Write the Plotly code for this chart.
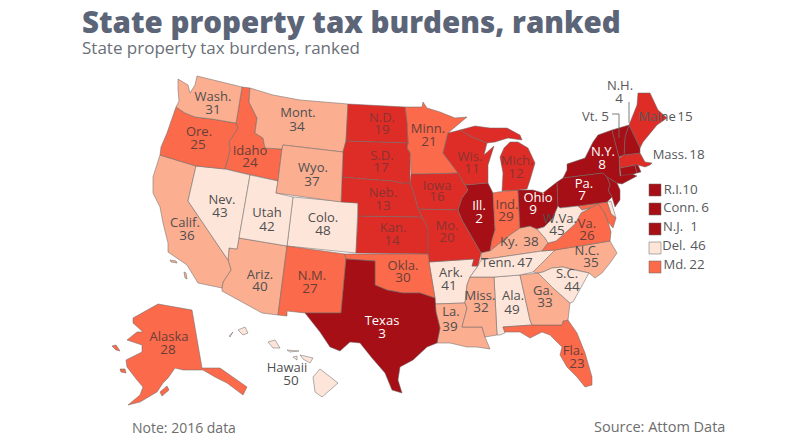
import plotly.graph_objects as go

# --- Chart text ---
TITLE = "State property tax burdens, ranked"
SUBTITLE = "State property tax burdens, ranked"
NOTE = "Note: 2016 data"
SOURCE = "Source: Attom Data"

# --- State data (same order in every list) ---
STATES = ["AL","AK","AZ","AR","CA","CO","CT","DE","FL","GA","HI","ID","IL","IN","IA","KS","KY",
          "LA","ME","MD","MA","MI","MN","MS","MO","MT","NE","NV","NH","NJ","NM","NY","NC","ND",
          "OH","OK","OR","PA","RI","SC","SD","TN","TX","UT","VT","VA","WA","WV","WI","WY"]
NAMES = ["Ala.","Alaska","Ariz.","Ark.","Calif.","Colo.","Conn.","Del.","Fla.","Ga.","Hawaii",
         "Idaho","Ill.","Ind.","Iowa","Kan.","Ky.","La.","Maine","Md.","Mass.","Mich.","Minn.",
         "Miss.","Mo.","Mont.","Neb.","Nev.","N.H.","N.J.","N.M.","N.Y.","N.C.","N.D.","Ohio",
         "Okla.","Ore.","Pa.","R.I.","S.C.","S.D.","Tenn.","Texas","Utah","Vt.","Va.","Wash.",
         "W.Va.","Wis.","Wyo."]
RANKS = [49,28,40,41,36,48,6,46,23,33,50,24,2,29,16,14,38,39,15,22,18,12,21,32,20,34,13,43,4,1,
         27,8,35,19,9,30,25,7,10,44,17,47,3,42,5,26,31,45,11,37]

# States whose label sits off the shape, or in the key
OUTSIDE_LABELS = ["CT","DE","MD","NJ","RI","MA","NH","VT","ME"]
KEY_STATES = ["RI","CT","NJ","DE","MD"]

# --- Outlines, in map units (one list of rings per state) ---
# The geo subplot needs topojson from a CDN, so the states are plain filled traces here.
AL = [[(494,277),(520,275),(530,320),(532,325),(503,327),(505,333),(500,335),(497,335)]]
AK = [[(133,318),(158,304),(192,310),(202,368),(208,368),(220,368),(247,387),(243,395),(227,383),
       (215,377),(203,370),(183,370),(175,368),(168,378),(163,383),(157,392),(140,402),(128,405),
       (140,395),(143,387),(137,380),(127,367),(126,360),(142,352),(142,345),(127,340),(137,332),
       (143,332),(133,323)],
      [(112,346),(116,345),(120,351),(116,350)],
      [(120,369),(125,369),(126,373),(121,372)],
      [(160,392),(167,386),(169,390),(162,396)]]
AZ = [[(239,238),(287,246),(278,315),(262,313),(222,291),(222,288),(223,282),(231,270),(228,260),
       (229,248),(237,249)]]
AR = [[(429,262),(474,259),(472,266),(478,266),(470,277),(467,285),(465,303),(435,304),(435,298)]]
CA = [[(160,155),(196,166),(188,201),(228,260),(231,270),(223,282),(222,288),(198,283),(187,265),
       (168,252),(168,243),(163,223),(160,207),(153,193),(153,177)],
      [(170,260),(176,261),(177,263),(171,262)],
      [(184,272),(186,273),(187,279),(185,278)]]
CO = [[(293,197),(358,203),(356,253),(287,246)]]
CT = [[(620,168),(635,165),(637,173),(621,178)]]
DE = [[(607,202),(611,201),(613,208),(616,218),(611,214)]]
FL = [[(503,327),(532,325),(562,325),(563,321),(568,320),(577,333),(585,353),(592,377),(592,385),
       (585,387),(577,377),(567,367),(560,355),(562,347),(550,335),(542,332),(530,338),(520,332),
       (505,332)]]
GA = [[(520,275),(538,273),(540,275),(553,288),(570,303),(568,320),(563,321),(562,325),(532,325),
       (530,320)]]
HI = [[(313,377),(320,369),(338,383),(322,397),(315,392)],
      [(300,355),(313,358),(310,363),(303,359)],
      [(268,342),(275,340),(280,348),(273,348)],
      [(238,330),(245,327),(248,333),(243,335)],
      [(287,350),(299,351),(290,352)],
      [(293,357),(297,356),(297,360)],
      [(229,336),(233,332),(230,337)]]
ID = [[(242,87),(250,88),(249,102),(257,118),(255,133),(263,138),(265,148),(282,149),(278,181),
       (250,175),(225,169),(230,150),(229,142),(238,128),(236,123)]]
IL = [[(465,185),(488,183),(493,193),(495,230),(492,240),(490,251),(481,253),(472,237),(462,220),
       (458,210),(462,198),(468,190)]]
IN = [[(493,193),(498,192),(518,190),(520,228),(510,235),(500,243),(490,251),(492,240),(495,230)]]
IA = [[(411,174),(458,173),(465,185),(468,190),(462,198),(458,210),(418,209),(415,197),(410,183)]]
KS = [[(358,216),(422,217),(428,228),(428,254),(356,253)]]
KY = [[(481,260),(481,253),(490,251),(500,243),(510,235),(520,228),(530,226),(537,229),(545,238),
       (548,243),(542,251)]]
LA = [[(435,304),(465,303),(467,308),(462,327),(482,327),(485,337),(490,349),(477,347),(467,347),
       (450,343),(440,343),(437,343),(440,328),(436,312)]]
ME = [[(638,93),(650,93),(658,110),(667,118),(657,125),(643,142),(640,148),(629,125),(637,105)]]
MD = [[(578,206),(607,202),(611,214),(616,218),(613,228),(608,222),(604,212),(598,204),(590,208),
       (582,210)]]
MA = [[(619,158),(624,155),(640,153),(645,162),(652,163),(650,165),(645,167),(638,165),(635,165),
       (620,168)]]
MI = [[(460,130),(475,126),(490,128),(507,128),(520,135),(522,140),(508,138),(495,142),(487,143),
       (472,137)],
      [(510,142),(518,142),(528,148),(535,163),(530,180),(527,189),(518,190),(502,191),(503,173),
       (500,157),(504,148)]]
MN = [[(405,107),(422,107),(423,102),(427,108),(440,112),(455,118),(467,117),(448,133),(445,145),
       (443,153),(452,165),(458,173),(411,174),(410,153),(407,148),(408,143),(407,123)]]
MS = [[(470,277),(494,277),(497,335),(485,337),(482,327),(462,327),(467,308),(465,303),(467,285)]]
MO = [[(418,209),(458,210),(462,220),(472,237),(481,253),(478,266),(472,266),(474,259),(429,262),
       (428,254),(428,228),(422,217)]]
MT = [[(250,88),(273,95),(300,100),(348,104),(346,141),(343,152),(283,145),(282,149),(265,148),
       (263,138),(255,133),(257,118),(249,102)]]
NE = [[(342,177),(393,181),(402,183),(410,183),(415,197),(418,209),(422,217),(358,216),(358,203),
       (341,202)]]
NV = [[(196,166),(225,169),(250,175),(239,238),(237,249),(229,248),(228,260),(188,201)]]
NH = [[(629,125),(640,148),(640,153),(624,155),(625,137)]]
NJ = [[(607,177),(617,183),(620,190),(620,200),(615,207),(612,197),(608,190),(610,185)]]
NM = [[(287,246),(345,254),(346,259),(341,313),(305,313),(287,311),(287,316),(278,315)]]
NY = [[(563,178),(567,170),(567,164),(585,158),(593,142),(598,135),(612,130),(616,145),(619,157),
       (620,176),(632,174),(637,176),(622,184),(617,183),(607,177),(603,173)]]
NC = [[(555,250),(610,241),(617,253),(610,263),(602,273),(595,278),(589,273),(570,269),(563,267),
       (552,268),(543,272),(538,273),(533,272)]]
ND = [[(348,104),(405,107),(407,123),(408,143),(346,141)]]
OH = [[(518,190),(533,190),(543,193),(557,182),(558,206),(553,218),(544,227),(537,229),(530,226),
       (520,228)]]
OK = [[(345,254),(428,254),(429,262),(435,298),(420,293),(403,293),(387,290),(375,285),(375,261),
       (346,259)]]
OR = [[(176,107),(185,113),(195,117),(212,119),(236,123),(238,128),(229,142),(230,150),(225,169),
       (196,166),(160,155),(161,147),(167,133),(173,117)]]
PA = [[(557,182),(563,178),(603,173),(607,177),(610,185),(608,190),(612,197),(607,202),(578,206),
       (560,208),(558,206)]]
RI = [[(635,165),(638,165),(641,172),(637,173)]]
SC = [[(543,272),(552,268),(563,267),(570,269),(589,273),(580,290),(573,302),(570,303),(553,288),
       (540,275),(538,273)]]
SD = [[(346,141),(408,143),(407,148),(410,153),(410,183),(402,183),(393,181),(342,177),(343,152)]]
TN = [[(481,260),(542,251),(555,250),(533,272),(520,275),(494,277),(470,277),(478,266)]]
TX = [[(346,259),(375,261),(375,285),(387,290),(403,293),(420,293),(435,298),(436,312),(440,328),
       (437,343),(427,347),(413,360),(400,367),(398,380),(402,393),(392,390),(385,373),(372,358),
       (360,343),(350,342),(340,351),(330,347),(320,332),(305,313),(341,313)]]
UT = [[(250,175),(278,181),(276,193),(293,197),(287,246),(239,238)]]
VT = [[(612,130),(629,125),(625,137),(624,155),(619,157),(616,145)]]
VA = [[(542,251),(548,243),(556,241),(566,232),(575,224),(581,213),(590,208),(598,204),(604,212),
       (608,222),(611,232),(610,241),(555,250)]]
WA = [[(178,79),(188,85),(190,93),(195,85),(197,76),(242,87),(236,123),(212,119),(195,117),(185,113),
       (176,107),(179,101),(178,90)]]
WV = [[(545,238),(537,229),(544,227),(553,218),(558,206),(560,208),(578,206),(582,210),(590,208),
       (581,213),(575,224),(566,232),(556,241),(548,243)]]
WI = [[(448,133),(460,130),(472,137),(487,143),(484,155),(494,146),(488,165),(488,183),(465,185),
       (458,173),(452,165),(443,153),(445,145)]]
WY = [[(283,145),(343,152),(342,177),(341,202),(276,193),(278,181),(282,149)]]

OUTLINES = [AL,AK,AZ,AR,CA,CO,CT,DE,FL,GA,HI,ID,IL,IN,IA,KS,KY,LA,ME,MD,MA,MI,MN,MS,MO,MT,NE,NV,NH,
            NJ,NM,NY,NC,ND,OH,OK,OR,PA,RI,SC,SD,TN,TX,UT,VT,VA,WA,WV,WI,WY]

# --- Label placement, same order as STATES ---
NAME_X = [513,169,260,451,185,323,681,674,573,543,287,250,479,507,437,393,509,451,657,675,670,517,428,
          480,447,298,383,222,620,673,312,603,587,382,538,403,199,584,673,567,382,498,382,267,590,587,
          213,560,470,313]
NAME_Y = [297,338,276,274,224,219,209,247,352,292,369,152,207,206,187,229,243,313,118,266,156,162,130,
          297,227,114,194,201,87,228,277,153,252,119,199,267,133,185,191,275,157,264,322,214,118,225,
          98,220,158,169]
RANK_X = [512,168,260,449,187,323,705,698,577,545,291,250,479,506,437,392,531,450,685,697,697,516,429,
          481,447,297,383,220,619,694,310,602,591,382,533,403,198,582,690,572,381,525,382,267,605,587,
          213,557,472,312]
RANK_Y = [311,351,288,287,237,232,209,247,365,304,382,164,220,218,198,242,243,328,118,266,156,175,143,
          309,239,128,207,214,100,228,290,166,264,131,211,279,146,197,191,288,169,264,335,228,118,237,
          111,232,170,183]

# Key squares, one row per KEY_STATES entry
KEY_X = [655,655,655,655,655]
KEY_Y = [190,209,229,248,267]

# Leader lines for N.H. and Vt.
LEADER_NH_X = [629,629]
LEADER_NH_Y = [102,123]
LEADER_VT_X = [612,619,619]
LEADER_VT_Y = [114,114,138]

# --- Styling ---
TIER_COLORS = ["#a50f15", "#de2d26", "#fb6a4a", "#fcae91", "#fee5d9"]
TIER_TEXT = ["#ffffff", "#8a3232", "#6a3e38", "#4f4f4f", "#4f4f4f"]
OUTSIDE_TEXT = "#58585a"
BORDER_COLOR = "rgba(105,105,105,0.65)"
FONT = "Open Sans"


def tier(rank):
    return (rank - 1) // 10


def ring_points(rings):
    xs, ys = [], []
    for ring in rings:
        closed = ring + ring[:1]
        xs += [p[0] for p in closed] + [None]
        ys += [p[1] for p in closed] + [None]
    return xs, ys


fig = go.Figure()

for state, name, rank, rings in zip(STATES, NAMES, RANKS, OUTLINES):
    xs, ys = ring_points(rings)
    fig.add_trace(
        go.Scatter(
            x=xs,
            y=ys,
            mode="lines",
            fill="toself",
            fillcolor=TIER_COLORS[tier(rank)],
            line=dict(color=BORDER_COLOR, width=0.8),
            name=name,
            text=f"{name} {rank}",
            hoverinfo="text",
        )
    )

for lx, ly in ((LEADER_NH_X, LEADER_NH_Y), (LEADER_VT_X, LEADER_VT_Y)):
    fig.add_trace(
        go.Scatter(x=lx, y=ly, mode="lines", line=dict(color="#6d6d6d", width=0.9), hoverinfo="skip")
    )

# Key squares
key_ranks = [RANKS[STATES.index(s)] for s in KEY_STATES]
fig.add_trace(
    go.Scatter(
        x=KEY_X,
        y=KEY_Y,
        mode="markers",
        marker=dict(
            symbol="square",
            size=12,
            color=[TIER_COLORS[tier(r)] for r in key_ranks],
            line=dict(color=BORDER_COLOR, width=0.8),
        ),
        hoverinfo="skip",
    )
)

# Names and ranks are separate points so the two lines can sit as tight as in the original
label_colors = [
    OUTSIDE_TEXT if s in OUTSIDE_LABELS else TIER_TEXT[tier(r)] for s, r in zip(STATES, RANKS)
]
fig.add_trace(
    go.Scatter(
        x=NAME_X,
        y=NAME_Y,
        mode="text",
        text=NAMES,
        textposition="middle center",
        textfont=dict(family=FONT, size=13, color=label_colors),
        hoverinfo="skip",
    )
)
fig.add_trace(
    go.Scatter(
        x=RANK_X,
        y=RANK_Y,
        mode="text",
        text=[str(r) for r in RANKS],
        textposition="middle center",
        textfont=dict(family=FONT, size=13.5, color=label_colors),
        hoverinfo="skip",
    )
)

fig.update_layout(
    width=800,
    height=446,
    margin=dict(l=0, r=0, t=0, b=0),
    paper_bgcolor="white",
    plot_bgcolor="white",
    showlegend=False,
    xaxis=dict(range=[0, 800], visible=False, fixedrange=True),
    yaxis=dict(range=[446, 0], visible=False, fixedrange=True),
    annotations=[
        dict(x=80, y=21, text=TITLE, showarrow=False, xanchor="left", yanchor="middle",
             font=dict(family=FONT, size=29.5, weight=800, color="#5b6577")),
        dict(x=80, y=47, text=SUBTITLE, showarrow=False, xanchor="left", yanchor="middle",
             font=dict(family=FONT, size=17, color="#6a6f78")),
        dict(x=130, y=427, text=NOTE, showarrow=False, xanchor="left", yanchor="middle",
             font=dict(family=FONT, size=14, color="#6d6d6d")),
        dict(x=592, y=426, text=SOURCE, showarrow=False, xanchor="left", yanchor="middle",
             font=dict(family=FONT, size=14.5, color="#6d6d6d")),
    ],
)

# Drop the page's default 8px body margin so map units line up with the window
fig.write_html(
    "out.html",
    config={"displayModeBar": False},
    post_script="document.body.style.margin = '0';",
)
